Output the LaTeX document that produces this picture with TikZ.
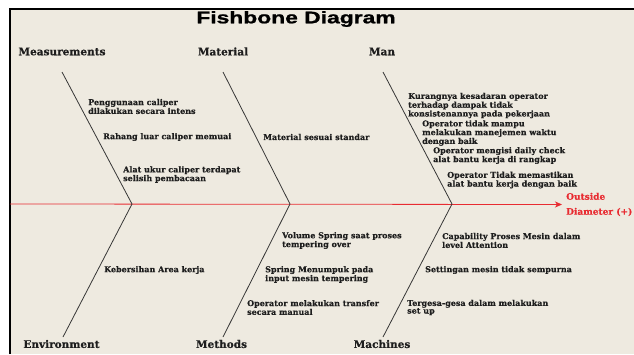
\documentclass[tikz,border=0pt]{standalone}
\usepackage{fontspec}
\setmainfont{DejaVu Serif}[BoldFeatures={FakeBold=0.4}]
\newfontfamily\titlefont[FakeStretch=1.36,FakeBold=1.2]{Liberation Sans}
\usetikzlibrary{positioning}
\usetikzlibrary{arrows.meta}
\definecolor{paper}{RGB}{238,234,224}
\definecolor{boneink}{RGB}{55,55,55}
\definecolor{spinered}{RGB}{232,44,50}
\definecolor{textink}{RGB}{30,30,30}

\begin{document}
\begin{tikzpicture}[x=1pt,y=-1pt,
	cause/.style={anchor=west,align=left,inner sep=0pt,text=textink,font=\fontsize{8}{7.6}\selectfont\bfseries},
	cat/.style={inner sep=0pt,text=textink,font=\fontsize{10.5}{12}\selectfont\bfseries},
	bone/.style={draw=boneink,line width=.8pt}]
				\useasboundingbox (0,0) rectangle (634,354);
				\fill[paper] (10,9) rectangle (634,354);
				\draw[line width=2.4pt] (10,354) |- (634,9);

				\node[font=\titlefont\fontsize{16.8}{18}\selectfont\bfseries](title) at (296,19){Fishbone Diagram};

				\node[cat](mea) at (62,51.5){Measurements};
				\node[cat](mat) at (223,51.5){Material};
				\node[cat](man) at (382,51.5){Man};
				\node[cat](env) at (61.5,344){Environment};
				\node[cat](met) at (221.5,344){Methods};
				\node[cat](mac) at (382,344){Machines};

				\coordinate (tail) at (10,204);
				\node[anchor=west,align=left,inner sep=0pt,text=spinered,font=\fontsize{9}{15}\selectfont\bfseries](effect) at (566,204.5){Outside\\Diameter (+)};

				\coordinate (meaTop) at (62,72);
				\coordinate (meaJoin) at (132,204);
				\coordinate (matTop) at (223,72);
				\coordinate (matJoin) at (290,204);
				\coordinate (manTop) at (383,72);
				\coordinate (manJoin) at (452,204);
				\coordinate (envEnd) at (63,337);
				\coordinate (metEnd) at (223,337);
				\coordinate (macEnd) at (383,337);

				\node[cause](pen) at (88,106.5){Penggunaan caliper\\dilakukan secara intens};
				\node[cause](rah) at (103,137){Rahang luar caliper memuai};
				\node[cause](alat) at (123,174.5){Alat ukur caliper terdapat\\selisih pembacaan};
				\node[cause](std) at (263,137){Material sesuai standar};
				\node[cause](kur) at (408,105.5){Kurangnya kesadaran operator\\terhadap dampak tidak\\konsistenannya pada pekerjaan};
				\node[cause](wak) at (422,133){Operator tidak mampu\\melakukan manejemen waktu\\dengan baik};
				\node[cause](dly) at (433,155.5){Operator mengisi daily check\\alat bantu kerja di rangkap};
				\node[cause](pas) at (447,180){Operator Tidak memastikan\\alat bantu kerja dengan baik};
				\node[cause](keb) at (104,270){Kebersihan Area kerja};
				\node[cause](vol) at (282,240.5){Volume Spring saat proses\\tempering over};
				\node[cause](spr) at (265,274.5){Spring Menumpuk pada\\input mesin tempering};
				\node[cause](trf) at (247,307.5){Operator melakukan transfer\\secara manual};
				\node[cause](capb) at (442,240.5){Capability Proses Mesin dalam\\level Attention};
				\node[cause](sett) at (425,270){Settingan mesin tidak sempurna};
				\node[cause](ter) at (407,307.5){Tergesa-gesa dalam melakukan\\set up};

				\draw[draw=spinered,line width=.8pt,-{Stealth[length=7pt,width=6pt,inset=2pt]},shorten >=4pt] (tail) to (effect.west);
				\draw[bone] (meaTop) to (meaJoin);
				\draw[bone] (matTop) to (matJoin);
				\draw[bone] (manTop) to (manJoin);
				\draw[bone] (meaJoin) to (envEnd);
				\draw[bone] (matJoin) to (metEnd);
				\draw[bone] (manJoin) to (macEnd);
			\end{tikzpicture}
\end{document}
